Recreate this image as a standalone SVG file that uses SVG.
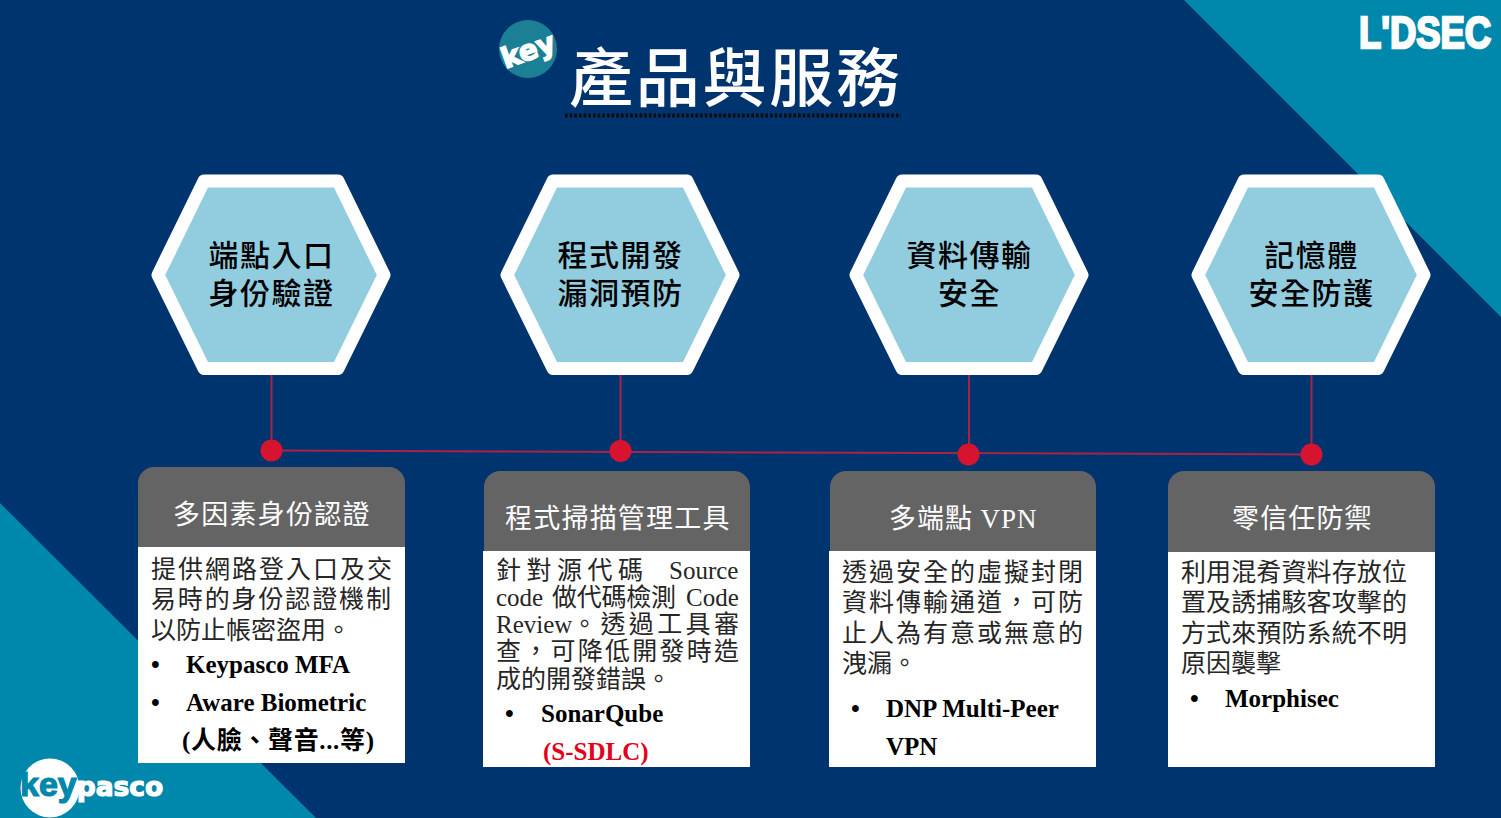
<svg xmlns="http://www.w3.org/2000/svg" width="1501" height="818" viewBox="0 0 1501 818">
<style>
.bg{fill:#00346f}
.teal{fill:#0087ac}
.hex{fill:#92cddf;stroke:#fff;stroke-width:13;stroke-linejoin:round}
.hd{fill:#646464}
.bd{fill:#fff}
text{font-family:"Liberation Serif","Noto Sans CJK TC",serif}
.ht{font-family:"Noto Sans CJK TC","Noto Sans",sans-serif;font-size:30px;font-weight:500;fill:#000;text-anchor:middle;letter-spacing:1.500px}
.ct{font-size:27px;fill:#fff;letter-spacing:.5px}
.b{font-size:25px;fill:#262626}
.k{font-size:25px;font-weight:700;fill:#000}
.r{font-size:25px;font-weight:700;fill:#e3001b}
.ln{stroke:#a82348;stroke-width:2;fill:none}
.dot{fill:#d7142f}
</style>
<rect class="bg" width="1501" height="818"/>
<polygon class="teal" points="1184,0 1501,0 1501,317"/>
<polygon class="teal" points="0,503 316,818 0,818"/>

<g id="title">
<circle cx="528" cy="49" r="29" fill="#1b7f96"/>
<text x="528" y="60" transform="rotate(-20 528 50)" text-anchor="middle" style="font-family:'DejaVu Sans',sans-serif;font-size:28px;font-weight:700;fill:#fff;stroke:#fff;stroke-width:1.500">key</text>
<text x="569" y="101" style="font-family:'Noto Sans CJK TC',sans-serif;font-size:64px;font-weight:500;fill:#fff" textLength="331">產品與服務</text>
<line x1="565" y1="115.500" x2="901" y2="115.500" stroke="#0a0a0a" stroke-width="4" stroke-dasharray="2.600 2.060"/>
</g>

<g id="logo-lidsec">
<text transform="translate(1359 48) scale(.81 1)" style="font-family:'Liberation Sans',sans-serif;font-size:45px;font-weight:700;fill:#fff;stroke:#fff;stroke-width:2.500">L'DSEC</text>
</g>
<g id="logo-keypasco">
<circle cx="50" cy="788" r="29.500" fill="#fff"/>
<text x="20" y="796" style="font-family:'Liberation Sans',sans-serif;font-size:34px;font-weight:700;stroke-width:1.200"><tspan fill="#0087ac" stroke="#0087ac">key</tspan><tspan dx="0" fill="#fff" stroke="#fff" style="font-family:'DejaVu Sans',sans-serif;font-size:26.500px">pasco</tspan></text>
</g>

<g id="connectors">
<line class="ln" x1="271.500" y1="375" x2="271.500" y2="450"/>
<line class="ln" x1="620.500" y1="375" x2="620.500" y2="451"/>
<line class="ln" x1="969" y1="375" x2="969" y2="454"/>
<line class="ln" x1="1311.500" y1="375" x2="1311.500" y2="454"/>
<line class="ln" x1="271.500" y1="450.500" x2="1311.500" y2="454.500"/>
<circle class="dot" cx="271.500" cy="450.500" r="11"/>
<circle class="dot" cx="620.500" cy="451" r="11"/>
<circle class="dot" cx="968.500" cy="454.500" r="11"/>
<circle class="dot" cx="1311.500" cy="454.500" r="11"/>
</g>

<g id="node-endpoint">
<polygon class="hex" points="158,275 204,181 338,181 384,275 338,368.500 204,368.500"/>
<text class="ht" x="271.500" y="266">端點入口</text>
<text class="ht" x="271.500" y="304">身份驗證</text>
</g>
<g id="node-code">
<polygon class="hex" points="507,275 553,181 687,181 733,275 687,368.500 553,368.500"/>
<text class="ht" x="620.500" y="266">程式開發</text>
<text class="ht" x="620.500" y="304">漏洞預防</text>
</g>
<g id="node-transport">
<polygon class="hex" points="856,275 902,181 1036,181 1082,275 1036,368.500 902,368.500"/>
<text class="ht" x="969.500" y="266">資料傳輸</text>
<text class="ht" x="969.500" y="304">安全</text>
</g>
<g id="node-memory">
<polygon class="hex" points="1198,275 1244,181 1378,181 1424,275 1378,368.500 1244,368.500"/>
<text class="ht" x="1311.500" y="266">記憶體</text>
<text class="ht" x="1311.500" y="304">安全防護</text>
</g>

<g id="card-mfa">
<path class="hd" d="M138,547V483a16,16 0 0 1 16,-16H389a16,16 0 0 1 16,16V547Z"/>
<rect class="bd" x="138" y="547" width="267" height="216"/>
<text class="ct" x="173" y="524" textLength="197">多因素身份認證</text>
<text class="b" x="151" y="578" textLength="241">提供網路登入口及交</text>
<text class="b" x="151" y="608" textLength="240">易時的身份認證機制</text>
<text class="b" x="151" y="639">以防止帳密盜用。</text>
<text class="k" x="151" y="673">•</text>
<text class="k" x="186" y="673">Keypasco MFA</text>
<text class="k" x="151" y="711">•</text>
<text class="k" x="186" y="711">Aware Biometric</text>
<text class="k" x="182" y="749" textLength="192">(人臉、聲音...等)</text>
</g>
<g id="card-scan">
<path class="hd" d="M484,551V487a16,16 0 0 1 16,-16H734a16,16 0 0 1 16,16V551Z"/>
<rect class="bd" x="483" y="551" width="267" height="216"/>
<text class="ct" x="505" y="528" textLength="225">程式掃描管理工具</text>
<text class="b" x="496" y="579" textLength="147">針對源代碼</text>
<text class="b" x="669" y="579">Source</text>
<text class="b" x="496" y="606">code</text>
<text class="b" x="552" y="606" textLength="124">做代碼檢測</text>
<text class="b" x="686" y="606">Code</text>
<text class="b" x="496" y="633">Review</text>
<text class="b" x="572" y="633" textLength="167">。透過工具審</text>
<text class="b" x="496" y="660" textLength="243">查，可降低開發時造</text>
<text class="b" x="496" y="688">成的開發錯誤。</text>
<text class="k" x="505" y="722">•</text>
<text class="k" x="541" y="722">SonarQube</text>
<text class="r" x="543" y="760">(S-SDLC)</text>
</g>
<g id="card-vpn">
<path class="hd" d="M830,551V487a16,16 0 0 1 16,-16H1080a16,16 0 0 1 16,16V551Z"/>
<rect class="bd" x="829" y="551" width="267" height="216"/>
<text class="ct" x="889" y="528" textLength="148">多端點 VPN</text>
<text class="b" x="842" y="581" textLength="241">透過安全的虛擬封閉</text>
<text class="b" x="842" y="611" textLength="241">資料傳輸通道，可防</text>
<text class="b" x="842" y="642" textLength="241">止人為有意或無意的</text>
<text class="b" x="842" y="672">洩漏。</text>
<text class="k" x="851" y="717">•</text>
<text class="k" x="886" y="717">DNP Multi-Peer</text>
<text class="k" x="886" y="755">VPN</text>
</g>
<g id="card-zerotrust">
<path class="hd" d="M1168,552V487a16,16 0 0 1 16,-16H1419a16,16 0 0 1 16,16V552Z"/>
<rect class="bd" x="1168" y="552" width="267" height="215"/>
<text class="ct" x="1232" y="528" textLength="140">零信任防禦</text>
<text class="b" x="1181" y="581" textLength="226">利用混肴資料存放位</text>
<text class="b" x="1181" y="611" textLength="226">置及誘捕駭客攻擊的</text>
<text class="b" x="1181" y="642" textLength="226">方式來預防系統不明</text>
<text class="b" x="1181" y="672">原因襲擊</text>
<text class="k" x="1190" y="707">•</text>
<text class="k" x="1225" y="707">Morphisec</text>
</g>
</svg>
